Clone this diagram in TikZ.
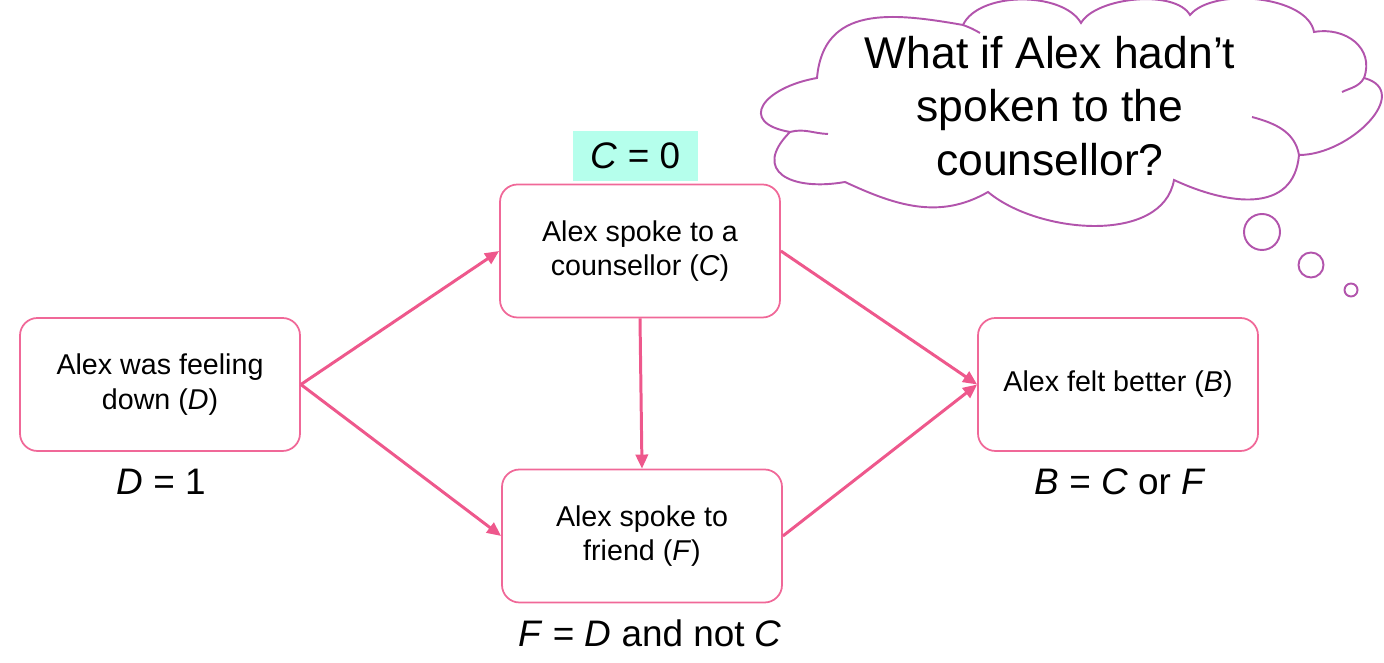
\documentclass[tikz,border=0pt]{standalone}
\usepackage{fontspec}
\setmainfont{Liberation Sans}
\usetikzlibrary{arrows.meta}
\definecolor{mpink}{RGB}{240,104,152}
\definecolor{marrow}{RGB}{238,88,140}
\definecolor{mpurple}{RGB}{178,84,172}
\definecolor{mcyan}{RGB}{181,255,236}

\begin{document}
\begin{tikzpicture}[
    box/.style={rectangle, draw=mpink, line width=1pt, rounded corners=0.35cm,
        minimum width=5.6cm, minimum height=2.66cm, align=center,
        font=\fontsize{16.3}{19.5}\selectfont},
    eqn/.style={font=\fontsize{21}{25}\selectfont},
    bubble/.style={circle, draw=mpurple, line width=1.1pt, inner sep=0pt},
    puff/.style={draw=mpurple, line width=1.1pt},
    link/.style={-{Triangle[length=8pt,width=7pt]}, marrow, line width=1.7pt}
  ]
    \useasboundingbox (0,0) rectangle (27.68,13.26);

    \node[box] (D) at (3.2, 5.57)   {Alex was feeling\\down (\textit{D})};
    \node[box] (C) at (12.8, 8.24)  {Alex spoke to a\\counsellor (\textit{C})};
    \node[box] (F) at (12.84, 2.54) {Alex spoke to\\friend (\textit{F})};
    \node[box] (B) at (22.36, 5.57) {Alex felt better (\textit{B})};

    \node[eqn, fill=mcyan, minimum width=2.5cm, minimum height=1cm] (Cdo) at (12.71, 10.14) {\textit{C} = 0};
    \node[eqn] (Dval) at (3.22, 3.62)  {\textit{D} = 1};
    \node[eqn] (Bval) at (22.4, 3.62)  {\textit{B} = \textit{C} or \textit{F}};
    \node[eqn] (Fval) at (13.0, 0.6)   {\textit{F} = \textit{D} and not \textit{C}};

    % thought cloud
    \draw[puff] (16.34, 11.70) to[out=85, in=170, looseness=1.2] (19.26, 12.76)
        to[out=65, in=120, looseness=0.8] (21.62, 12.80)
        to[out=60, in=120, looseness=0.7] (23.80, 12.96)
        to[out=50, in=100, looseness=0.75] (26.28, 12.62)
        to[out=10, in=70, looseness=1.2] (27.28, 11.70)
        to[out=-15, in=0, looseness=1.3] (25.98, 10.16)
        to[out=-95, in=-25, looseness=1.2] (23.48, 9.66)
        to[out=-100, in=-40, looseness=0.9] (19.76, 9.42)
        to[out=-150, in=-25, looseness=1.0] (16.90, 9.62)
        to[out=-170, in=-135, looseness=1.9] (15.80, 10.62)
        to[out=170, in=-170, looseness=2.3] cycle;
    \draw[puff] (15.80, 10.62) to[out=15, in=178] (16.56, 10.58);
    \draw[puff] (25.98, 10.16) to[out=100, in=-15] (25.04, 10.92);
    \draw[puff] (27.28, 11.70) to[out=-120, in=25] (26.84, 11.42);
    \draw[puff] (19.26, 12.76) to[out=-20, in=150] (19.60, 12.60);
    \node[align=center, font=\fontsize{25.3}{30.6}\selectfont] (question) at (21.0, 11.14)
        {What if Alex hadn't\\spoken to the\\counsellor?};
    \node[bubble, minimum size=0.72cm] (bub1) at (25.24, 8.62) {};
    \node[bubble, minimum size=0.5cm]  (bub2) at (26.22, 7.96) {};
    \node[bubble, minimum size=0.26cm] (bub3) at (27.02, 7.46) {};

    \draw[link] (D.east) -- (C.west);
    \draw[link] (D.east) -- (F.west);
    \draw[link] (C.south) -- (F.north);
    \draw[link] (C.east) -- (B.west);
    \draw[link] (F.east) -- (B.west);
\end{tikzpicture}
\end{document}
